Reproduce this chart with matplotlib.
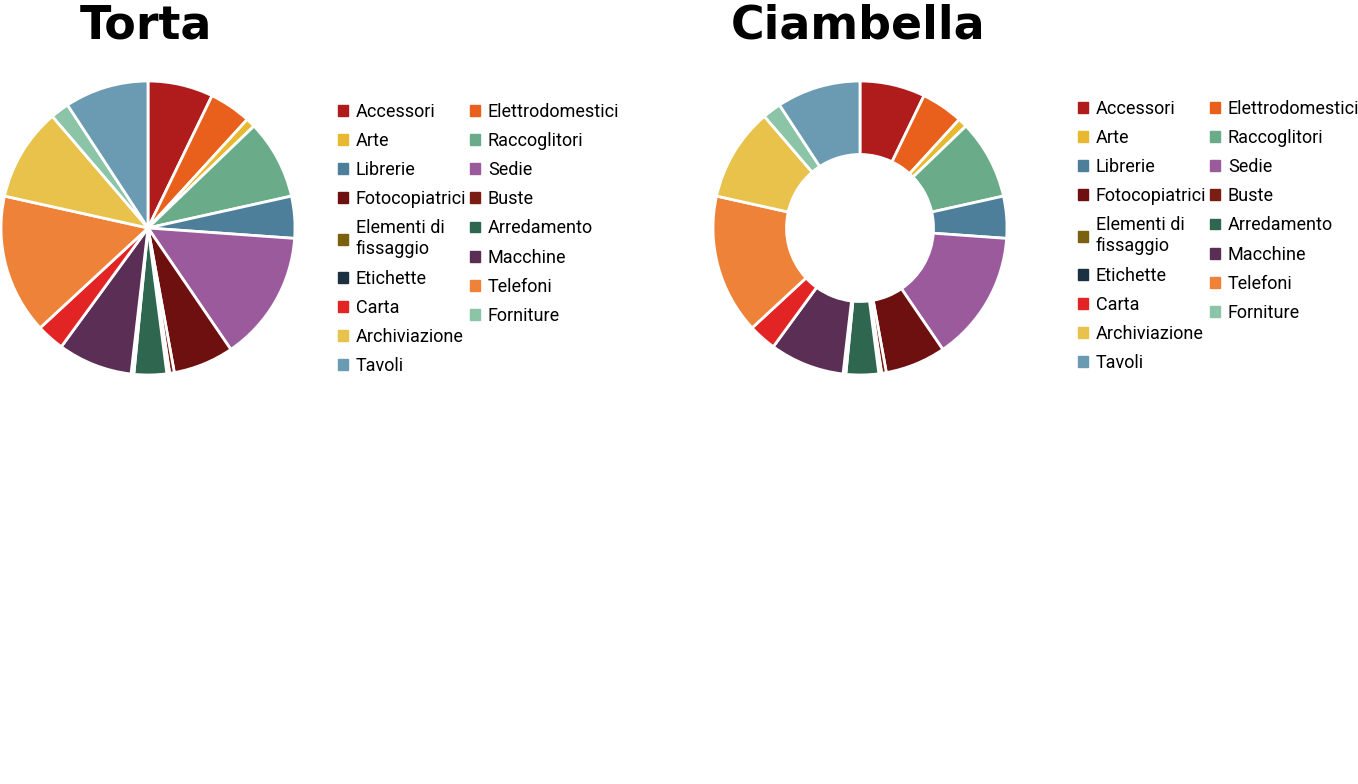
import matplotlib.pyplot as plt
from matplotlib.patches import Patch

categories = ["Accessori", "Elettrodomestici", "Arte", "Raccoglitori", "Librerie",
              "Sedie", "Fotocopiatrici", "Buste", "Elementi di\nfissaggio",
              "Arredamento", "Etichette", "Macchine", "Carta", "Telefoni",
              "Archiviazione", "Forniture", "Tavoli"]
values = [7.0, 4.5, 1.0, 8.5, 4.5, 14.0, 6.5, 0.5, 0.3, 3.5, 0.3, 8.0, 3.0, 15.0,
          10.0, 2.0, 9.0]
colors = ["#b01c1c", "#e8601c", "#e8b830", "#6aab8a", "#4e7f9a", "#9b5a9c",
          "#6e0f10", "#7a1e14", "#7a6010", "#2f6650", "#1b3040", "#5a2e55",
          "#e32424", "#ee8238", "#e8c24a", "#8cc4a8", "#6b9bb3"]

W, H = 1358, 784
fig = plt.figure(figsize=(W / 100, H / 100), dpi=100)


def px_axes(cx, cy, r):
    return fig.add_axes([(cx - r) / W, (H - cy - r) / H, 2 * r / W, 2 * r / H])


def legend_at(x, y):
    handles = [Patch(color=c, label=l) for c, l in zip(colors, categories)]
    order = list(range(0, len(handles), 2)) + list(range(1, len(handles), 2))
    hs = [handles[i] for i in order]
    fig.legend(handles=hs, loc="upper left", bbox_to_anchor=(x / W, 1 - y / H),
               ncol=2, frameon=False, handlelength=0.55, handleheight=0.55,
               handletextpad=0.45, columnspacing=0.2, labelspacing=0.62,
               borderpad=0.2, prop={"family": "Roboto", "size": 13})


wedge = dict(edgecolor="white", linewidth=2)

ax1 = px_axes(148, 228, 147)
ax1.pie(values, colors=colors, startangle=90, counterclock=False,
        wedgeprops=wedge, radius=1)
ax1.set_xlim(-1, 1); ax1.set_ylim(-1, 1)
fig.text(146 / W, 1 - 26 / H, "Torta", ha="center", va="center",
         fontsize=33, fontweight="bold")
legend_at(325, 90)

ax2 = px_axes(860, 228, 147)
ax2.pie(values, colors=colors, startangle=90, counterclock=False,
        wedgeprops=dict(width=0.5, **wedge), radius=1)
ax2.set_xlim(-1, 1); ax2.set_ylim(-1, 1)
fig.text(858 / W, 1 - 26 / H, "Ciambella", ha="center", va="center",
         fontsize=33, fontweight="bold")
legend_at(1065, 87)

fig.savefig("out.png", dpi=100)
